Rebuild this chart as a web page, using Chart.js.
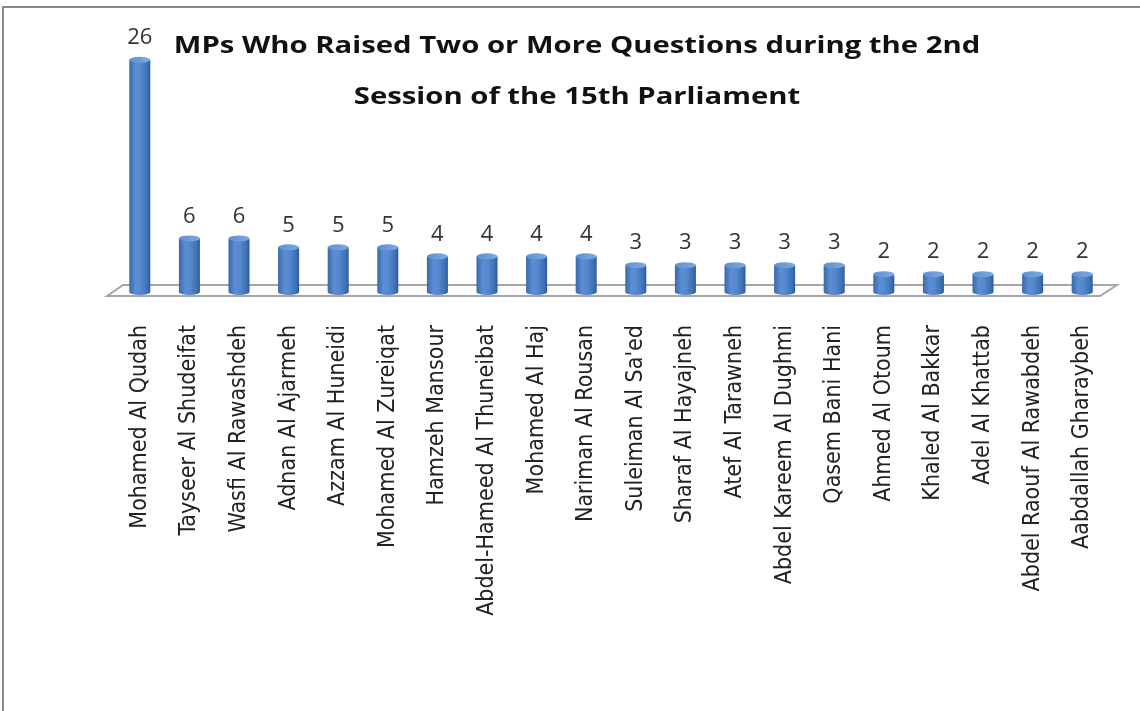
<!DOCTYPE html>
<html>
<head>
<meta charset="utf-8">
<script src="https://cdn.jsdelivr.net/npm/chart.js@4.4.1/dist/chart.umd.min.js"></script>
<style>
    body { margin: 0; background: #fff; }
    #frame {
        position: absolute; left: 2px; top: 6px; width: 1138px; height: 705px;
        border-top: 2px solid #8a8a8a; border-left: 2px solid #8a8a8a; box-sizing: border-box;
    }
    #wrap { position: absolute; left: 0; top: 0; width: 1140px; height: 711px; }
</style>
</head>
<body>
<div id="frame"></div>
<div id="wrap"><canvas id="mine"></canvas></div>
<script>
    const names = [
        "Mohamed Al Qudah", "Tayseer Al Shudeifat", "Wasfi Al Rawashdeh", "Adnan Al Ajarmeh",
        "Azzam Al Huneidi", "Mohamed Al Zureiqat", "Hamzeh Mansour", "Abdel-Hameed Al Thuneibat",
        "Mohamed Al Haj", "Nariman Al Rousan", "Suleiman Al Sa'ed", "Sharaf Al Hayajneh",
        "Atef Al Tarawneh", "Abdel Kareem Al Dughmi", "Qasem Bani Hani", "Ahmed Al Otoum",
        "Khaled Al Bakkar", "Adel Al Khattab", "Abdel Raouf Al Rawabdeh", "Aabdallah Gharaybeh"
    ];
    const questions = [26, 6, 6, 5, 5, 5, 4, 4, 4, 4, 3, 3, 3, 3, 3, 2, 2, 2, 2, 2];
    const titleLines = [
        "MPs Who Raised Two or More Questions during the 2nd",
        "Session of the 15th Parliament"
    ];

    // horizontal shading so each bar reads as a cylinder
    function tubeFill(ctx, cx, w) {
        let g = ctx.createLinearGradient(cx - w / 2, 0, cx + w / 2, 0);
        g.addColorStop(0, "#3a69aa");
        g.addColorStop(0.3, "#5a8dd2");
        g.addColorStop(0.55, "#5588cf");
        g.addColorStop(0.85, "#3f70b2");
        g.addColorStop(1, "#2e5b98");
        return g;
    }

    // floor slab under the bars
    const floor = {
        id: "floor",
        beforeDatasetsDraw(chart) {
            let ctx = chart.ctx, a = chart.chartArea;
            let y0 = chart.scales.y.getPixelForValue(0);
            ctx.save();
            ctx.beginPath();
            ctx.moveTo(a.left - 8, y0 + 4);
            ctx.lineTo(a.left + 8, y0 - 7);
            ctx.lineTo(a.right + 10, y0 - 7);
            ctx.lineTo(a.right - 7, y0 + 4);
            ctx.closePath();
            ctx.fillStyle = "#fcfcfc";
            ctx.fill();
            ctx.strokeStyle = "#a6a6a6";
            ctx.lineWidth = 2;
            ctx.stroke();
            ctx.restore();
        }
    };

    // rounded bottoms, caps and value labels
    const tubes = {
        id: "tubes",
        afterDatasetsDraw(chart) {
            let ctx = chart.ctx;
            let meta = chart.getDatasetMeta(0);
            ctx.save();
            meta.data.forEach((bar, i) => {
                let w = bar.width, cx = bar.x;
                ctx.fillStyle = tubeFill(ctx, cx, w);
                ctx.beginPath();
                ctx.ellipse(cx, bar.base, w / 2, 3, 0, 0, Math.PI);
                ctx.fill();
                let cap = ctx.createLinearGradient(cx - w / 2, 0, cx + w / 2, 0);
                cap.addColorStop(0, "#5e90d2");
                cap.addColorStop(1, "#7ea9e0");
                ctx.fillStyle = cap;
                ctx.beginPath();
                ctx.ellipse(cx, bar.y, w / 2, 3, 0, 0, Math.PI * 2);
                ctx.fill();
                ctx.fillStyle = "#333";
                ctx.font = "22px 'Open Sans', sans-serif";
                ctx.textAlign = "center";
                ctx.textBaseline = "bottom";
                ctx.fillText(questions[i], cx, bar.y - 11);
            });
            ctx.restore();
        },
        afterDraw(chart) {
            let ctx = chart.ctx;
            ctx.save();
            ctx.fillStyle = "#111";
            ctx.font = "bold 24px 'Open Sans', sans-serif";
            ctx.textAlign = "center";
            ctx.textBaseline = "middle";
            // wide face: stretch the title sideways
            ctx.translate(577, 0);
            ctx.scale(1.22, 1);
            ctx.fillText(titleLines[0], 0, 46);
            ctx.fillText(titleLines[1], 0, 97);
            ctx.restore();
        }
    };

    new Chart(document.getElementById("mine").getContext("2d"), {
        type: "bar",
        data: {
            labels: names,
            datasets: [{
                data: questions,
                barPercentage: 0.53,
                categoryPercentage: 0.8,
                borderWidth: 0,
                backgroundColor: c => {
                    let x = c.chart.scales.x;
                    if (!x || c.dataIndex === undefined) return "#4a7ebf";
                    let cx = x.getPixelForValue(c.dataIndex);
                    let w = (x.right - x.left) / names.length * 0.424;
                    if (!isFinite(cx) || !isFinite(w) || w <= 0) return "#4a7ebf";
                    return tubeFill(c.chart.ctx, cx, w);
                }
            }]
        },
        options: {
            responsive: true,
            maintainAspectRatio: false,
            animation: false,
            layout: { padding: { left: 115, right: 33, top: 42, bottom: 0 } },
            plugins: { legend: { display: false }, tooltip: { enabled: false } },
            scales: {
                y: { display: false, min: 0, max: 28 },
                x: {
                    grid: { display: false },
                    border: { display: false },
                    afterFit: s => { s.height = 419; },
                    ticks: {
                        autoSkip: false,
                        minRotation: 90,
                        maxRotation: 90,
                        padding: 25,
                        color: "#222",
                        font: { family: "'DejaVu Sans Condensed', 'Liberation Sans', sans-serif", size: 23 }
                    }
                }
            }
        },
        plugins: [floor, tubes]
    });
</script>
</body>
</html>
